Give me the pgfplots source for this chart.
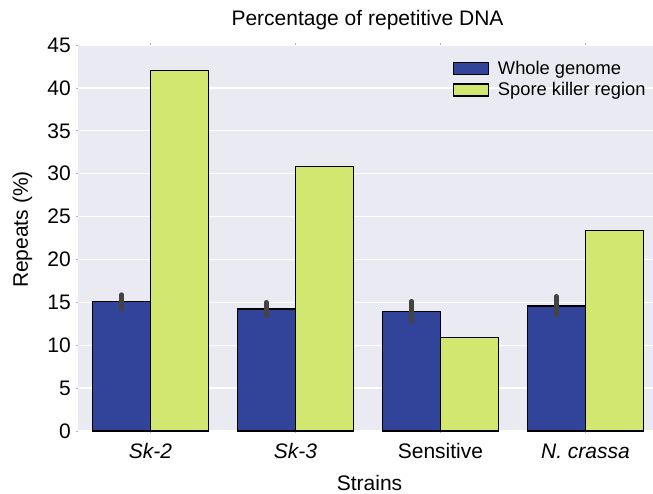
\documentclass[border=0pt]{standalone}
\usepackage{pgfplots}
\pgfplotsset{compat=1.18}
\usepackage{fontspec}
\setmainfont{Liberation Sans}
\definecolor{bgc}{HTML}{EAEAF2}
\definecolor{wblue}{HTML}{32449A}
\definecolor{sgreen}{HTML}{D1E770}
\definecolor{errc}{HTML}{444444}
\newcommand{\fbig}{\fontsize{21bp}{25bp}\selectfont}
\newcommand{\fleg}{\fontsize{18.3bp}{22bp}\selectfont}
\begin{document}
\begin{tikzpicture}
\useasboundingbox (-78bp,-63bp) rectangle (575bp,431bp);
\begin{axis}[
  at={(0,0)}, anchor=south west,
  scale only axis, width=575bp, height=386bp,
  xmin=-0.5, xmax=3.466, ymin=0, ymax=45,
  ybar, bar width=0.4,
  axis background/.style={fill=bgc},
  axis line style={draw=none},
  ymajorgrids, grid style={white, line width=1.3bp},
  xtick={0,1,2,3},
  xticklabels={\textit{Sk-2},\textit{Sk-3},Sensitive,\textit{N. crassa}},
  ytick={0,5,...,45},
  tick align=outside, major tick length=2bp,
  tick style={draw=gray!60, line width=0.6bp},
  /pgf/number format/assume math mode=true,
  tick label style={font=\fbig},
  xticklabel style={anchor=base, inner sep=0pt, yshift=-25bp},
  yticklabel style={anchor=east, inner sep=0pt, xshift=-5bp},
  label style={font=\fbig},
  xlabel={Strains},
  xlabel style={at={(axis description cs:0.507,-0.1535)}, anchor=base, inner sep=0pt},
  ylabel={Repeats (\%)},
  ylabel style={at={(axis description cs:-0.0965,0.5218)}, anchor=center, inner sep=0pt},
  title={Percentage of repetitive DNA},
  title style={font=\fbig, at={(axis description cs:0.5035,1.0345)}, anchor=base, inner sep=0pt},
  legend style={font=\fleg, draw=none, fill=none, at={(axis description cs:0.652,1)}, anchor=north west,
    yshift=-15.6bp, inner sep=0pt, row sep=7bp, column sep=8.7bp, nodes={inner sep=0pt}},
  legend cell align=left,
  every axis plot post/.append style={
    legend image code/.code={\draw[##1, draw=black, line width=1.2bp] (0bp,-6bp) rectangle (35bp,6bp);}},
  error bars/y dir=both, error bars/y explicit,
  error bars/error mark=none,
  error bars/error bar style={line width=4.5bp, color=errc, line cap=round},
]
\addplot[fill=wblue, draw=black, line width=1.2bp, bar shift=-0.2] coordinates {
  (0,15.12) += (0,0.79) -= (0,0.89)
  (1,14.23) += (0,0.78) -= (0,0.78)
  (2,13.96) += (0,1.17) -= (0,1.17)
  (3,14.58) += (0,1.13) -= (0,1.06)
};
\addlegendentry{Whole genome}
\addplot[fill=sgreen, draw=black, line width=1.2bp, bar shift=0.2, error bars/y dir=none] coordinates {
  (0,42.04) (1,30.87) (2,10.89) (3,23.33)
};
\addlegendentry{Spore killer region}
\end{axis}
\end{tikzpicture}
\end{document}
